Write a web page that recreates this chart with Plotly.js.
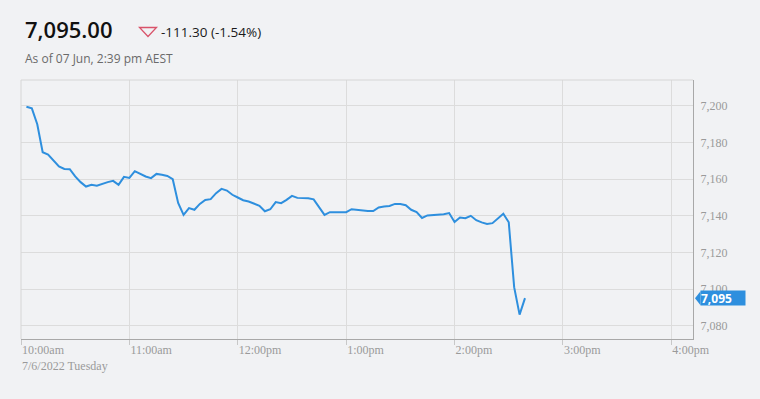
<!DOCTYPE html>
<html>
<head>
<meta charset="utf-8">
<script src="https://cdn.plot.ly/plotly-3.0.1.min.js"></script>
<style>
html,body{margin:0;padding:0;background:#f1f2f4;}
#chart{width:760px;height:399px;}
</style>
</head>
<body>
<div id="chart"></div>
<script>
// Minutes after 10:00am (3-minute steps), 7 Jun 2022
const minutes = [3,6,9,12,15,18,21,24,27,30,33,36,39,42,45,48,51,54,57,60,
  63,66,69,72,75,78,81,84,87,90,93,96,99,102,105,108,111,114,117,120,
  123,126,129,132,135,138,141,144,147,150,153,156,159,162,165,168,171,174,177,180,
  183,186,189,192,195,198,201,204,207,210,213,216,219,222,225,228,231,234,237,240,
  243,246,249,252,255,258,261,264,267,270,273,276,279];
const prices = [7199.6,7198.7,7190.0,7174.7,7173.5,7170.0,7167.0,7165.6,7165.5,7161.5,
  7158.4,7156.0,7156.9,7156.4,7157.5,7158.4,7159.1,7156.9,7161.3,7160.7,
  7164.4,7162.8,7161.5,7160.6,7162.9,7162.4,7161.8,7160.0,7147.0,7140.5,
  7144.2,7143.3,7146.5,7148.7,7149.1,7152.4,7154.7,7153.8,7151.5,7150.0,
  7148.5,7147.8,7146.5,7145.5,7142.5,7143.6,7147.5,7146.9,7148.7,7150.9,
  7149.8,7149.8,7149.6,7149.0,7144.8,7140.5,7142.0,7142.0,7142.0,7142.0,
  7143.6,7143.2,7143.1,7142.6,7142.6,7144.6,7145.1,7145.4,7146.5,7146.5,
  7145.8,7143.3,7142.0,7138.8,7140.2,7140.4,7140.9,7140.9,7141.5,7136.6,
  7139.1,7138.7,7140.0,7137.6,7136.4,7135.6,7136.0,7138.5,7141.1,7136.5,
  7101.0,7086.0,7095.0];
const tickVals = ['2022-06-07 10:00','2022-06-07 11:00','2022-06-07 12:00','2022-06-07 13:00',
  '2022-06-07 14:00','2022-06-07 15:00','2022-06-07 16:00'];
const tickText = ['10:00am<br>7/6/2022 Tuesday','11:00am','12:00pm','1:00pm','2:00pm','3:00pm','4:00pm'];
const yTicks = [7080,7100,7120,7140,7160,7180,7200];
const lastPrice = '7,095.00';
const change = '-111.30 (-1.54%)';
const asOf = 'As of 07 Jun, 2:39 pm AEST';

function toTime(m){
  const h = 10 + Math.floor(m/60), mm = m % 60;
  return '2022-06-07 ' + String(h).padStart(2,'0') + ':' + String(mm).padStart(2,'0');
}
const times = minutes.map(toTime);
const lastVal = prices[prices.length-1];

const bg = '#f1f2f4';
const blue = '#2e8fde';
const tickFont = {family:'"Liberation Serif", "Times New Roman", serif', size:12, color:'#9a9a9a'};

const trace = {
  x: times, y: prices, type:'scatter', mode:'lines',
  line:{color:blue, width:2}, hoverinfo:'skip'
};

const layout = {
  width:760, height:399,
  paper_bgcolor:bg, plot_bgcolor:bg,
  margin:{l:20.7, r:66.7, t:80, b:59.7},
  showlegend:false,
  xaxis:{
    type:'date',
    range:['2022-06-07 10:00','2022-06-07 16:12'],
    tickmode:'array', tickvals:tickVals, ticktext:tickText,
    ticks:'outside', ticklen:5, tickcolor:'#c8c8c8', tickwidth:1,
    ticklabelposition:'outside right',
    showgrid:true, gridcolor:'#dcdcdc', gridwidth:1,
    showline:true, linecolor:'#a8a8a8', linewidth:1,
    zeroline:false, tickfont:tickFont, fixedrange:true
  },
  yaxis:{
    side:'right',
    range:[7072.7, 7214.2],
    tickmode:'array', tickvals:yTicks,
    ticktext:yTicks.map(v=>v.toLocaleString('en-US')),
    ticks:'', showgrid:true, gridcolor:'#dcdcdc', gridwidth:1,
    showline:true, linecolor:'#a8a8a8', linewidth:1,
    zeroline:false, tickfont:tickFont, ticklabelstandoff:4, fixedrange:true
  },
  shapes:[
    {type:'line', xref:'paper', yref:'paper', x0:0, x1:1, y0:1, y1:1,
     line:{color:'#d6d6d6', width:1}},
    {type:'line', xref:'paper', yref:'paper', x0:0, x1:0, y0:0, y1:1,
     line:{color:'#d6d6d6', width:1}},
    // down-triangle marker next to the change
    {type:'path', xref:'paper', yref:'paper', xsizemode:'pixel', ysizemode:'pixel',
     xanchor:0, yanchor:1, path:'M 118.5 52.5 L 135.5 52.5 L 127 43.5 Z',
     line:{color:'#d9536a', width:1.3}, fillcolor:'rgba(0,0,0,0)'},
    // pointer of the last-value flag
    {type:'path', xref:'paper', yref:'y', xsizemode:'pixel', ysizemode:'pixel',
     xanchor:1, yanchor:lastVal, path:'M 2 0 L 7.5 -7 L 7.5 7 Z',
     line:{width:0}, fillcolor:blue}
  ],
  annotations:[
    {xref:'paper', yref:'paper', x:0, y:1, xanchor:'left', yanchor:'middle',
     xshift:2, yshift:51, text:lastPrice, showarrow:false,
     font:{family:'"Open Sans", sans-serif', size:22, color:'#111111', weight:600}},
    {xref:'paper', yref:'paper', x:0, y:1, xanchor:'left', yanchor:'middle',
     xshift:138, yshift:48, text:change, showarrow:false,
     font:{family:'"Open Sans", sans-serif', size:13.5, color:'#1a1a1a', weight:500}},
    {xref:'paper', yref:'paper', x:0, y:1, xanchor:'left', yanchor:'middle',
     xshift:2, yshift:22, text:asOf, showarrow:false,
     font:{family:'"Open Sans", sans-serif', size:12, color:'#6a6a6a'}},
    {xref:'paper', yref:'y', x:1, y:lastVal, xanchor:'left', yanchor:'middle',
     xshift:7, text:'<b>'+lastVal.toLocaleString('en-US')+'</b>', showarrow:false,
     bgcolor:blue, width:44, height:14, align:'left', borderpad:0,
     font:{family:'"Open Sans", sans-serif', size:12, color:'#ffffff'}}
  ]
};

Plotly.newPlot('chart', [trace], layout, {displayModeBar:false, staticPlot:true});
</script>
</body>
</html>
